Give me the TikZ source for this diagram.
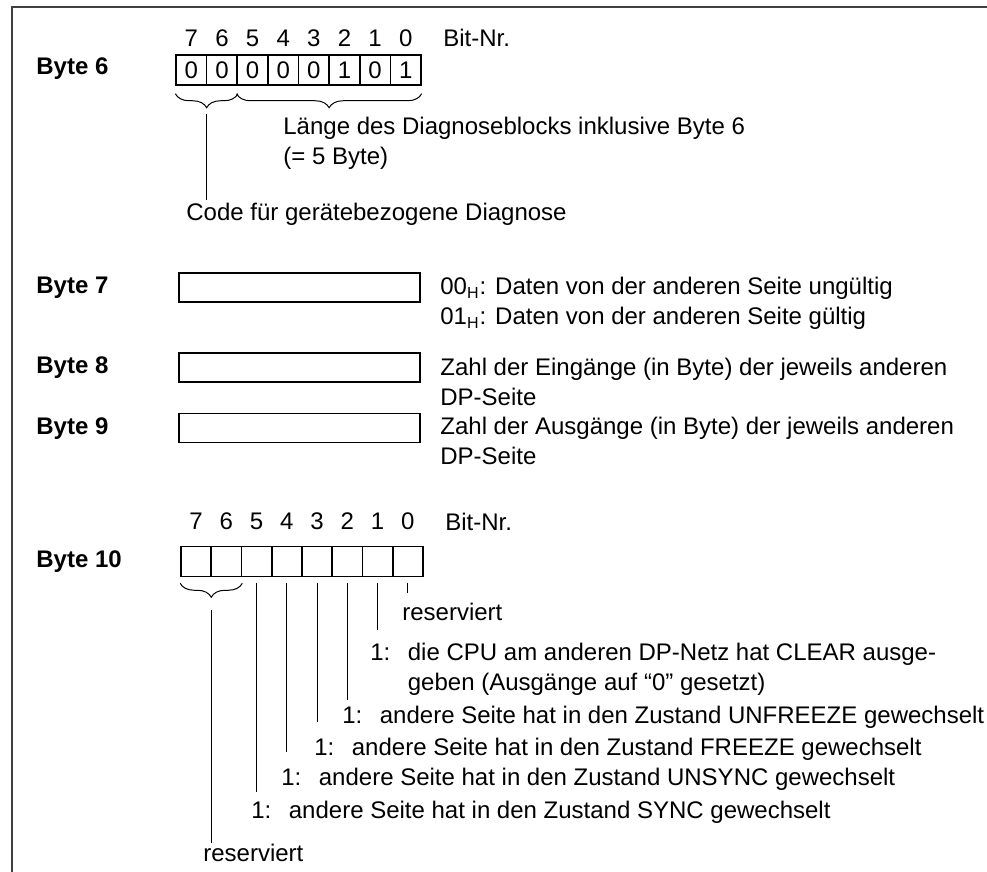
\documentclass[tikz,border=0pt]{standalone}
\usepackage{fontspec}
\setmainfont{Liberation Sans}
\usetikzlibrary{positioning,calc,decorations.pathreplacing}
\tikzset{
  txt/.style={anchor=base west, inner sep=0pt, align=left,
              font=\fontsize{12}{15}\selectfont},
  bytelabel/.style={txt, font=\fontsize{12}{15}\selectfont\bfseries},
  bitcell/.style={rectangle, draw=black, line width=0.75pt, inner sep=0pt,
                  minimum width=15.2pt, minimum height=15pt,
                  font=\fontsize{12}{15}\selectfont},
  bitno/.style={inner sep=0pt, anchor=base,
                font=\fontsize{12}{15}\selectfont},
  bytebox/.style={rectangle, draw=black, line width=0.75pt,
                  minimum width=120.5pt, minimum height=14.5pt},
  bitline/.style={line width=0.5pt, shorten <=3pt},
  bracket/.style={decorate, line width=0.5pt,
                  decoration={brace, mirror, amplitude=7pt}},
  frameline/.style={line width=0.9pt, draw=black!75},
}
\newcommand{\onecol}{\makebox[18.75pt][l]{1:}}

\begin{document}
\begin{tikzpicture}[x=0.5pt, y=-0.5pt]
  \useasboundingbox (0,0) rectangle (987,872);
  \draw[frameline] (12,872) -- (12,7) -- (987,7);

  % Byte 6
  \node[bytelabel] (lb6) at (36,75) {Byte 6};
  \foreach \b/\v in {7/0,6/0,5/0,4/0,3/0,2/1,1/0,0/1}
    \node[bitcell] (b6c\b) at ({176+30.625*(7.5-\b)},70) {\v};
  \foreach \b in {7,...,0}
    \node[bitno] (b6n\b) at ([yshift=4pt]b6c\b.north) {\b};
  \node[txt] (bitnr6) at (443,47) {Bit-Nr.};
  \draw[bracket] ([yshift=-4pt]b6c7.south west) -- ([yshift=-4pt]b6c6.south east);
  \draw[bracket] ([yshift=-4pt]b6c5.south west) -- ([yshift=-4pt]b6c0.south east);
  \coordinate (tip6) at ($(b6c7.south west)!.5!(b6c6.south east)+(0,28)$);
  % base = last line
  \node[txt] (laenge) at (283,165) {L\"ange des Diagnoseblocks inklusive Byte 6\\(= 5 Byte)};
  \node[txt] (code) at (186,221) {Code f\"ur ger\"atebezogene Diagnose};
  \draw[line width=0.5pt] (tip6) -- (tip6 |- 0,200);

  % Byte 7 bis 9
  \node[bytelabel] (lb7) at (36,293) {Byte 7};
  \node[bytebox] (b7) at (299.5,287.5) {};
  \node[txt] (t7) at (440,325) {00\textsubscript{H}: Daten von der anderen Seite ung\"ultig\\
                                01\textsubscript{H}: Daten von der anderen Seite g\"ultig};
  \node[bytelabel] (lb8) at (36,373) {Byte 8};
  \node[bytebox] (b8) at (299.5,367.5) {};
  \node[txt] (t8) at (440,405) {Zahl der Eing\"ange (in Byte) der jeweils anderen\\DP-Seite};
  \node[bytelabel] (lb9) at (36,435) {Byte 9};
  \node[bytebox] (b9) at (299.5,428) {};
  \node[txt] (t9) at (440,464) {Zahl der Ausg\"ange (in Byte) der jeweils anderen\\DP-Seite};

  % Byte 10
  \node[bytelabel] (lb10) at (36,567) {Byte 10};
  \foreach \b in {7,...,0}
    \node[bitcell] (b10c\b) at ({181+30.25*(7.5-\b)},561.5) {};
  \foreach \b in {7,...,0}
    \node[bitno] (b10n\b) at ([yshift=8pt]b10c\b.north) {\b};
  \node[txt] (bitnr10) at (445,530) {Bit-Nr.};
  \draw[bracket] ([yshift=-3pt]b10c7.south west) -- ([yshift=-3pt]b10c6.south east);
  \coordinate (tip10) at ($(b10c7.south west)!.5!(b10c6.south east)+(0,33)$);

  \node[txt] (res0) at (402,620) {reserviert};
  \node[txt] (d1) at (370,690) {\onecol die CPU am anderen DP-Netz hat CLEAR ausge-\\
                                \hspace*{18.75pt}geben (Ausg\"ange auf “0” gesetzt)};
  \node[txt] (d2) at (342,723) {\onecol andere Seite hat in den Zustand UNFREEZE gewechselt};
  \node[txt] (d3) at (314,755) {\onecol andere Seite hat in den Zustand FREEZE gewechselt};
  \node[txt] (d4) at (281,785) {\onecol andere Seite hat in den Zustand UNSYNC gewechselt};
  \node[txt] (d5) at (251,818) {\onecol andere Seite hat in den Zustand SYNC gewechselt};
  \node[txt] (res7) at (203,861) {reserviert};

  \draw[bitline] (b10c0.south) -- (b10c0.south |- 0,593);
  \draw[bitline] (b10c1.south) -- (b10c1.south |- 0,630);
  \draw[bitline] (b10c2.south) -- (b10c2.south |- 0,700);
  \draw[bitline] (b10c3.south) -- (b10c3.south |- 0,722);
  \draw[bitline] (b10c4.south) -- (b10c4.south |- 0,752);
  \draw[bitline] (b10c5.south) -- (b10c5.south |- 0,792);
  \draw[line width=0.5pt] (tip10) -- (tip10 |- 0,843);
\end{tikzpicture}
\end{document}
